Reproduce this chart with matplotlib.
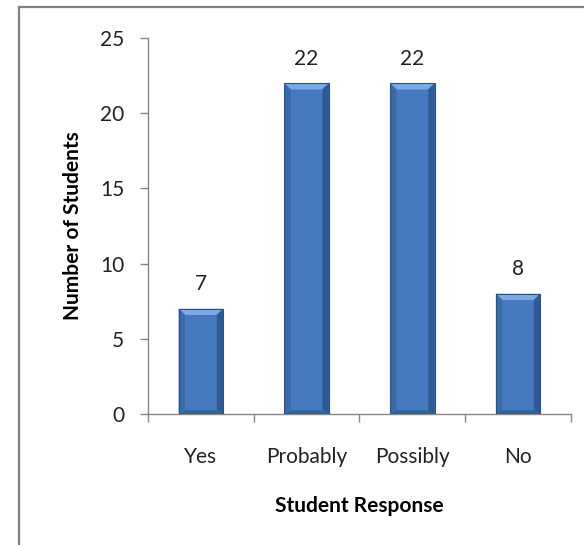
import matplotlib
matplotlib.use('Agg')
import matplotlib.pyplot as plt
from matplotlib.patches import Polygon, Rectangle
from matplotlib.lines import Line2D

categories = ['Yes', 'Probably', 'Possibly', 'No']
counts = [7, 22, 22, 8]
y_ticks = [0, 5, 10, 15, 20, 25]

plt.rcParams['font.family'] = ['Lato', 'DejaVu Sans']
fs = 15

fig = plt.figure(figsize=(5.84, 5.45), dpi=100)
ax = fig.add_axes([0.2534, 0.2404, 0.7243, 0.6899])

bar_w = 0.42
bx = 0.06    # bevel width in x (data units)
by = 0.42    # bevel height in y (data units)

for i, v in enumerate(counts):
    x0 = i - bar_w / 2
    x1 = i + bar_w / 2
    # faces of the bevelled bar
    ax.add_patch(Rectangle((x0, 0), bar_w, v, facecolor='#4779bf', edgecolor='none', zorder=2))
    ax.add_patch(Polygon([(x0, v), (x1, v), (x1 - bx, v - by), (x0 + bx, v - by)],
                         facecolor='#7aaae4', edgecolor='none', zorder=3))
    ax.add_patch(Polygon([(x0, 0), (x1, 0), (x1 - bx, by * 0.6), (x0 + bx, by * 0.6)],
                         facecolor='#34629f', edgecolor='none', zorder=3))
    ax.add_patch(Polygon([(x0, 0), (x0, v), (x0 + bx, v - by), (x0 + bx, by * 0.6)],
                         facecolor='#3a6aa8', edgecolor='none', zorder=3))
    ax.add_patch(Polygon([(x1, 0), (x1, v), (x1 - bx, v - by), (x1 - bx, by * 0.6)],
                         facecolor='#2f5b94', edgecolor='none', zorder=3))
    ax.add_patch(Rectangle((x0, 0), bar_w, v, facecolor='none', edgecolor='#2a5189',
                           linewidth=0.8, zorder=4))
    ax.text(i, v + 0.95, str(v), ha='center', va='bottom', fontsize=fs, color='#222222')

ax.set_xlim(-0.5, 3.5)
ax.set_ylim(0, 25)
ax.set_yticks(y_ticks)
ax.set_yticklabels([str(t) for t in y_ticks], fontsize=fs, color='#222222')
ax.set_xticks([-0.5, 0.5, 1.5, 2.5, 3.5])
ax.set_xticklabels([])
ax.set_xticks(range(len(categories)), minor=True)
ax.set_xticklabels(categories, minor=True, fontsize=fs, color='#222222')
ax.tick_params(axis='x', which='minor', length=0, pad=24)
ax.tick_params(axis='both', which='major', length=6, width=1, color='#868686', direction='out')
ax.tick_params(axis='y', pad=11)

for side in ['top', 'right']:
    ax.spines[side].set_visible(False)
for side in ['left', 'bottom']:
    ax.spines[side].set_color('#868686')
    ax.spines[side].set_linewidth(1)

ax.set_xlabel('Student Response', fontsize=fs, fontweight='bold', labelpad=21)
ax.set_ylabel('Number of Students', fontsize=fs, fontweight='bold', labelpad=12)

# outer chart frame (left and top edges)
fig.add_artist(Line2D([18.5 / 584, 18.5 / 584], [0, 1 - 6.5 / 545], transform=fig.transFigure,
                      color='#808080', linewidth=1.6))
fig.add_artist(Line2D([18.5 / 584, 1], [1 - 6.5 / 545, 1 - 6.5 / 545], transform=fig.transFigure,
                      color='#808080', linewidth=1.6))

fig.savefig('out.png', dpi=100)
